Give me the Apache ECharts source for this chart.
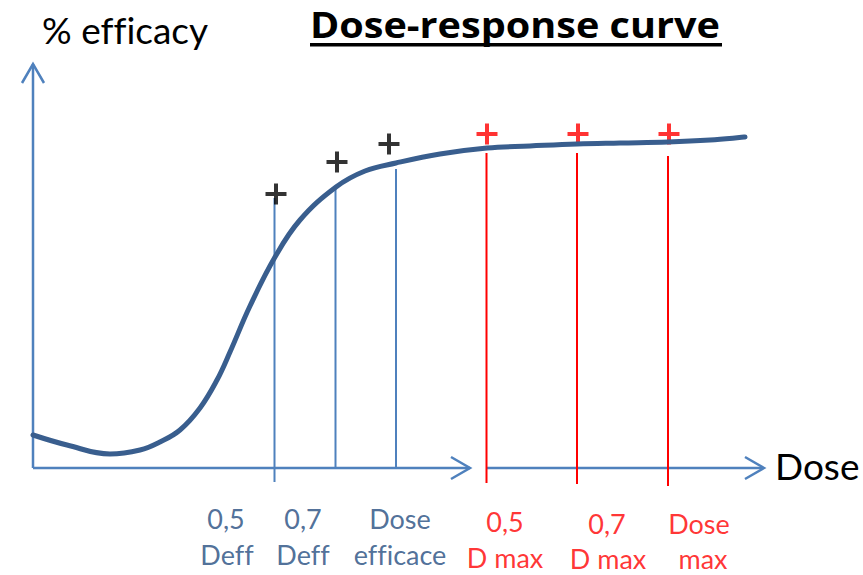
<!DOCTYPE html>
<html><head><meta charset="utf-8">
<script src="https://cdn.jsdelivr.net/npm/echarts@6/dist/echarts.min.js"></script>
<style>html,body{margin:0;padding:0;background:#fff}#c{width:863px;height:575px}
#c text{font-variant-ligatures:none !important;font-feature-settings:"liga" 0, "clig" 0 !important}</style>
</head><body><div id="c"></div>
<script>
// Dose-response curve (dose in arbitrary units, efficacy in %)
const curveDose = [0, 3.4, 7.7, 10.7, 12.7, 14.7, 16.7, 18.4, 19.7, 21.7, 24.2, 26.7, 30.3, 33.2, 36.3, 40.7, 45.4, 49.7, 54.4, 58.7, 63.5, 67.7, 71.2];
const curveEff  = [8.25, 5.75, 3.5, 4.5, 6.5, 9.5, 15, 22, 29, 40.5, 52.75, 62, 70.25, 74.25, 76.25, 78.5, 80, 80.5, 81, 81.25, 81.5, 82, 82.75];

// reference doses (vertical markers)
const markerNames = ['0,5 Deff', '0,7 Deff', 'Dose efficace', '0,5 D max', '0,7 D max', 'Dose max'];
const markerDose  = [24.15, 30.25, 36.3, 45.35, 54.4, 63.5];
const markerTop   = [67.5, 69.75, 74.75, 78.75, 78.75, 78];
const markerBottom= [-3.5, 0, 0, -3.75, -4, -4.5];
const markerKind  = [0, 0, 0, 1, 1, 1]; // 0 = efficacy, 1 = max

// "+" marks
const plusDose = [24.3, 30.4, 35.6, 45.4, 54.5, 63.6];
const plusEff  = [68.5, 76.5, 81, 83.5, 83.5, 83.5];

// tick labels (two lines each)
const tickLine1 = ['0,5', '0,7', 'Dose', '0,5', '0,7', 'Dose'];
const tickLine2 = ['Deff', 'Deff', 'efficace', 'D max', 'D max', 'max'];
const tickDose1 = [19.3, 27, 36.7, 47.2, 57.4, 66.6];
const tickDose2 = [19.4, 27, 36.7, 47.2, 57.5, 67.0];
const tickEff1  = [-12.5, -12.5, -12.5, -13.25, -13.75, -13.75];
const tickEff2  = [-21.5, -21.5, -21.5, -22.25, -22.5, -22.5];

// axes segments [x0, y0, x1, y1]
const axisY  = [0, 0, 0, 101];
const axisX1 = [0, 0, 43.7, 0];
const axisX2 = [45.3, 0, 73.1, 0];

const AXIS = '#4F81BD', CURVE = '#395E8E', RED = '#FF0000', TXT = '#234B7E';
const kindColor = [AXIS, RED];
const tickColor = [TXT, RED];
const FONT = 'Lato';

const chart = echarts.init(document.getElementById('c'), null, {renderer: 'svg'});

function axisRender(params, api) {
  const p0 = api.coord([api.value(0), api.value(1)]);
  const p1 = api.coord([api.value(2), api.value(3)]);
  const dx = p1[0] - p0[0], dy = p1[1] - p0[1];
  const L = Math.sqrt(dx * dx + dy * dy);
  const ux = dx / L, uy = dy / L, nx = -uy, ny = ux;
  const back = 19, half = 11;
  return {
    type: 'group',
    children: [
      {type: 'line', shape: {x1: p0[0], y1: p0[1], x2: p1[0], y2: p1[1]}, style: {stroke: AXIS, lineWidth: 2.5}},
      {type: 'polyline', shape: {points: [
        [p1[0] - ux * back + nx * half, p1[1] - uy * back + ny * half],
        [p1[0], p1[1]],
        [p1[0] - ux * back - nx * half, p1[1] - uy * back - ny * half]
      ]}, style: {stroke: AXIS, lineWidth: 2.5, fill: null}}
    ]
  };
}

function tickLabels(lines, doses, effs) {
  return doses.map((d, i) => ({
    value: [d, effs[i]],
    label: {
      show: true, position: 'inside', formatter: lines[i],
      color: tickColor[markerKind[i]], fontFamily: FONT, fontSize: 27, lineHeight: 26, align: 'center'
    }
  }));
}

chart.setOption({
  animation: false,
  backgroundColor: '#fff',
  grid: {left: 0, right: 0, top: 0, bottom: 0},
  xAxis: {type: 'value', min: -3.3, max: 83, show: false},
  yAxis: {type: 'value', min: -26.75, max: 117, show: false},
  graphic: [
    {type: 'text', x: 310, y: 6, scaleX: 1.1, style: {text: 'Dose-response curve', font: 'bold 36px "Open Sans"', fill: '#000', textAlign: 'left', textVerticalAlign: 'top'}},
    {type: 'rect', shape: {x: 310, y: 43, width: 412, height: 3.5}, style: {fill: '#000'}},
    {type: 'text', left: 42, top: 11, style: {text: '% efficacy', font: '37px Lato', fill: '#000'}},
    {type: 'text', left: 775, top: 447, style: {text: 'Dose', font: '37px Lato', fill: '#000'}}
  ],
  series: [
    {
      type: 'custom', renderItem: axisRender, silent: true,
      data: [axisY, axisX1, axisX2], encode: {x: [0, 2], y: [1, 3]}
    },
    {
      type: 'custom', silent: true,
      encode: {x: 0, y: [1, 2]},
      data: markerDose.map((d, i) => [d, markerTop[i], markerBottom[i], markerKind[i]]),
      renderItem: function (params, api) {
        const a = api.coord([api.value(0), api.value(1)]);
        const b = api.coord([api.value(0), api.value(2)]);
        return {type: 'line', shape: {x1: a[0], y1: a[1], x2: b[0], y2: b[1]},
          style: {stroke: kindColor[api.value(3)], lineWidth: 2}};
      }
    },
    {
      type: 'line', smooth: 0.4, symbol: 'none', silent: true,
      lineStyle: {color: CURVE, width: 5, cap: 'round'},
      data: curveDose.map((d, i) => [d, curveEff[i]])
    },
    {
      type: 'scatter', silent: true,
      symbol: 'path://M8.5,0H12.5V8.5H21V12.5H12.5V21H8.5V12.5H0V8.5H8.5Z', symbolSize: 21,
      data: plusDose.map((d, i) => ({value: [d, plusEff[i]], itemStyle: {color: markerKind[i] ? RED : '#000'}}))
    },
    {type: 'scatter', silent: true, symbolSize: 0, data: tickLabels(tickLine1, tickDose1, tickEff1)},
    {type: 'scatter', silent: true, symbolSize: 0, data: tickLabels(tickLine2, tickDose2, tickEff2)}
  ]
});
</script>
</body></html>
